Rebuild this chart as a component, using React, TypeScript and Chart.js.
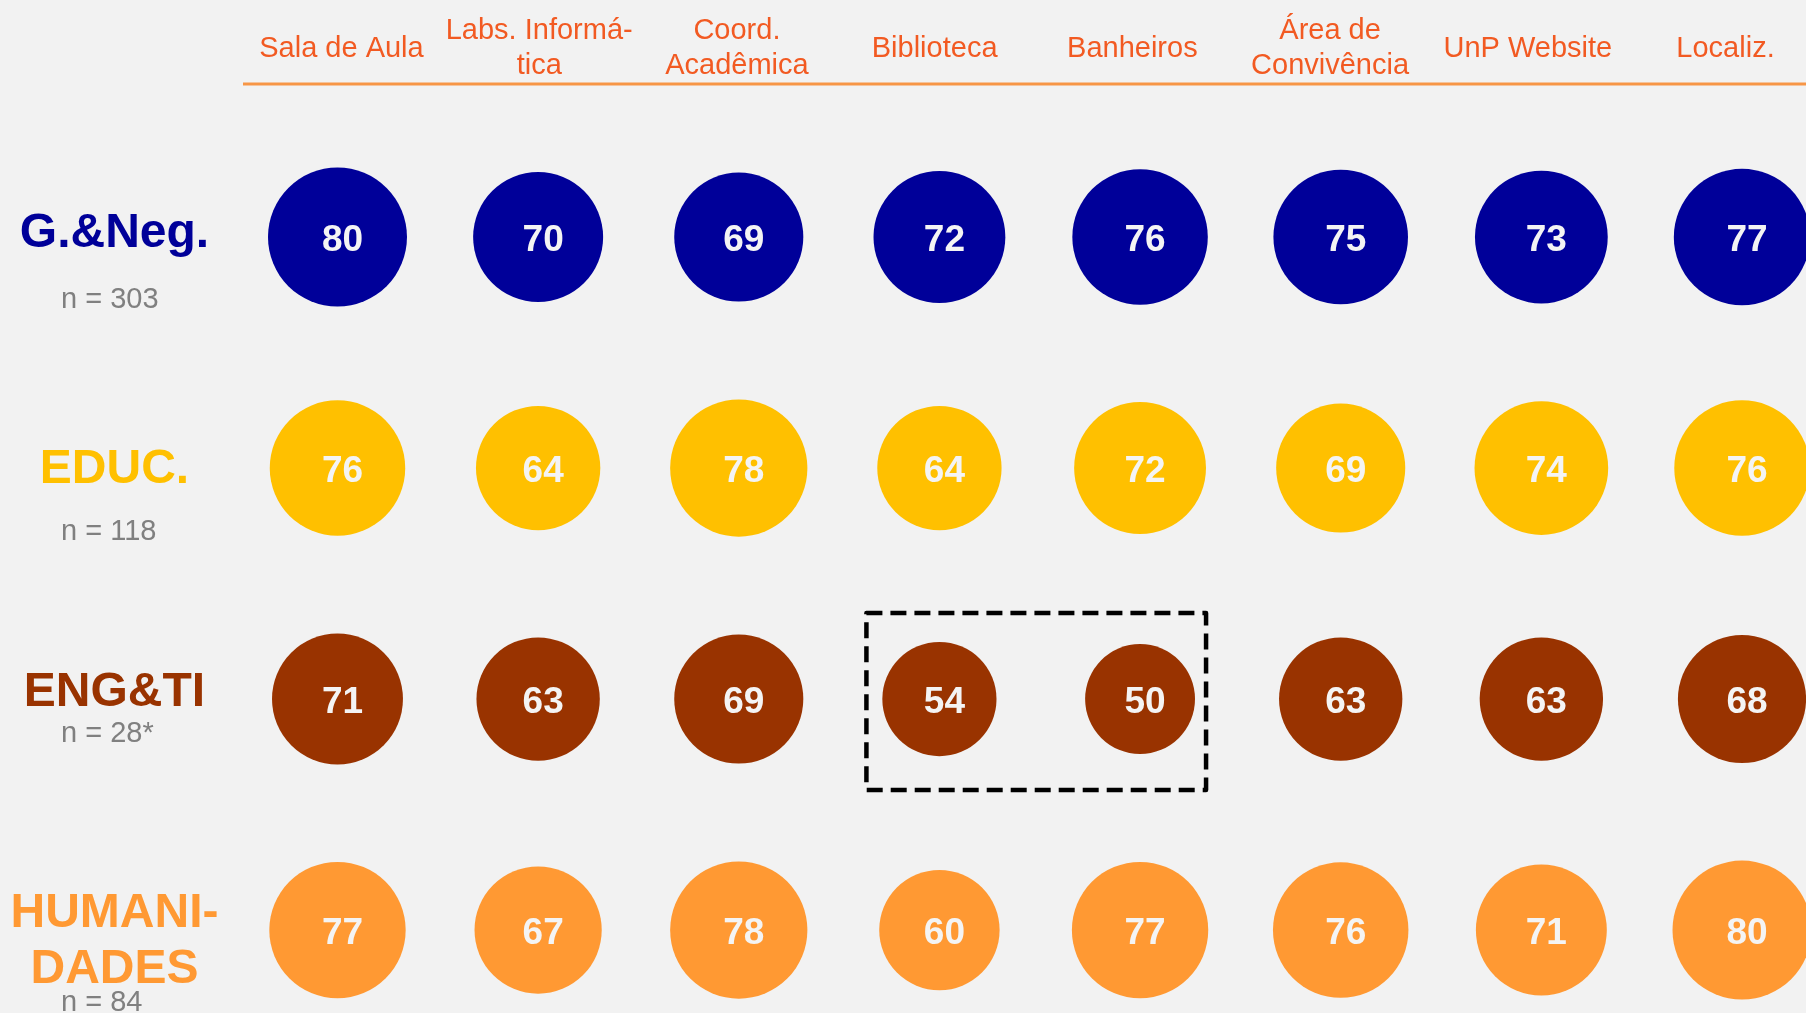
import React, { useEffect, useRef } from "react";
import { Chart, registerables } from "chart.js";

Chart.register(...registerables);

// ---- data ----
const categories: string[][] = [
  ["Sala de Aula"],
  ["Labs. Informá-", "tica"],
  ["Coord.", "Acadêmica"],
  ["Biblioteca"],
  ["Banheiros"],
  ["Área de", "Convivência"],
  ["UnP Website"],
  ["Localiz."],
];
const groups: string[][] = [["G.&Neg."], ["EDUC."], ["ENG&TI"], ["HUMANI-", "DADES"]];
const sampleSizes: string[] = ["n = 303", "n = 118", "n = 28*", "n = 84"];
const gestaoNegocios: number[] = [80, 70, 69, 72, 76, 75, 73, 77];
const educacao: number[] = [76, 64, 78, 64, 72, 69, 74, 76];
const engenhariaTI: number[] = [71, 63, 69, 54, 50, 63, 63, 68];
const humanidades: number[] = [77, 67, 78, 60, 77, 76, 71, 80];
const highlight = { row: 2, fromCol: 3, toCol: 4 };

// ---- styles ----
const W = 1806;
const H = 1013;
const FONT = '"Liberation Sans", Arial, Helvetica, sans-serif';
const BG = "#F2F2F2";
const groupColors = ["#000099", "#FFC000", "#993300", "#FF9933"];
const HEADER_COLOR = "#F25A22";
const HEADER_LINE = "#F79646";
const SIZE_K = 7.77; // px per sqrt(value)
// label placement relative to row centre (px)
const groupLabelLayout = [
  { base: 10, lineGap: 56, n: 71 },
  { base: 15, lineGap: 56, n: 72 },
  { base: 7, lineGap: 56, n: 43 },
  { base: -3, lineGap: 56, n: 81 },
];

const seriesList = [gestaoNegocios, educacao, engenhariaTI, humanidades];

const overlayPlugin = {
  id: "overlay",
  beforeDraw(chart: any) {
    const c = chart.ctx;
    c.save();
    c.fillStyle = BG;
    c.fillRect(0, 0, chart.width, chart.height);
    c.restore();
  },
  afterDatasetsDraw(chart: any) {
    const c = chart.ctx as CanvasRenderingContext2D;
    const xs = chart.scales.x;
    const ys = chart.scales.y;
    const xh = chart.scales.xh;
    c.save();

    // values inside bubbles
    c.font = `bold 37px ${FONT}`;
    c.fillStyle = "#F4F4F4";
    c.textAlign = "center";
    c.textBaseline = "alphabetic";
    seriesList.forEach((vals, r) => {
      vals.forEach((v, i) => {
        const px = xs.getPixelForValue(i) + 5;
        const py = ys.getPixelForValue(r) + 14;
        c.fillText(String(v), px, py);
      });
    });

    // header labels
    c.font = `29px ${FONT}`;
    c.fillStyle = HEADER_COLOR;
    categories.forEach((lines, i) => {
      const px = xh.getPixelForValue(i);
      if (lines.length === 1) {
        c.fillText(lines[0], px, 57);
      } else {
        c.fillText(lines[0], px, 39);
        c.fillText(lines[1], px, 74);
      }
    });
    // header line
    c.strokeStyle = HEADER_LINE;
    c.lineWidth = 3;
    c.beginPath();
    c.moveTo(243, 84);
    c.lineTo(W, 84);
    c.stroke();

    // group labels
    groups.forEach((lines, r) => {
      const cy = ys.getPixelForValue(r);
      const lay = groupLabelLayout[r];
      c.font = `bold 48px ${FONT}`;
      c.fillStyle = groupColors[r];
      c.textAlign = "center";
      lines.forEach((ln, k) => {
        c.fillText(ln, 114.5, cy + lay.base + k * lay.lineGap);
      });
      c.font = `29px ${FONT}`;
      c.fillStyle = "#808080";
      c.textAlign = "left";
      c.fillText(sampleSizes[r], 61, cy + lay.n);
    });

    // dashed highlight box
    const left = xs.getPixelForValue(highlight.fromCol) - 73;
    const right = xs.getPixelForValue(highlight.toCol) + 66;
    const top = ys.getPixelForValue(highlight.row) - 86;
    const bottom = ys.getPixelForValue(highlight.row) + 91;
    c.strokeStyle = "#000000";
    c.lineWidth = 4.5;
    c.setLineDash([16, 8]);
    c.lineJoin = "round";
    c.strokeRect(left, top, right - left, bottom - top);
    c.restore();
  },
};

export default function App() {
  const ref = useRef<HTMLCanvasElement | null>(null);
  useEffect(() => {
    document.body.style.margin = "0";
    document.body.style.background = BG;
    const canvas = ref.current;
    if (!canvas) return;
    const datasets = seriesList.map((vals, r) => ({
      label: groups[r].join(""),
      data: vals.map((v, i) => ({ x: i, y: r, r: SIZE_K * Math.sqrt(v) })),
      backgroundColor: groupColors[r],
      borderWidth: 0,
      hoverBorderWidth: 0,
      clip: false as any,
    }));
    const chart = new Chart(canvas, {
      type: "bubble",
      data: { datasets },
      options: {
        animation: false,
        responsive: false,
        events: [],
        layout: { padding: 0, autoPadding: false },
        plugins: { legend: { display: false }, tooltip: { enabled: false } },
        scales: {
          x: { type: "linear", display: false, min: -1.682, max: 7.319 },
          xh: { type: "linear", display: false, axis: "x", min: -1.727, max: 7.407 },
          y: { type: "linear", display: false, min: -1.026, max: 3.359, reverse: true },
        },
      } as any,
      plugins: [overlayPlugin],
    });
    return () => chart.destroy();
  }, []);
  return (
    <div style={{ position: "absolute", left: 0, top: 0, width: W, height: H, background: BG }}>
      <canvas ref={ref} width={W} height={H} style={{ display: "block" }} />
    </div>
  );
}
